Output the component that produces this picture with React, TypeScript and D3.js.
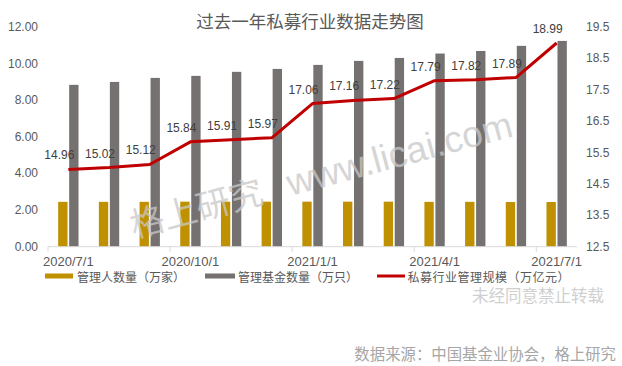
import * as d3 from 'd3';

// 过去一年私募行业数据走势图
const months = [
  '2020/7/1', '2020/8/1', '2020/9/1', '2020/10/1', '2020/11/1', '2020/12/1', '2021/1/1',
  '2021/2/1', '2021/3/1', '2021/4/1', '2021/5/1', '2021/6/1', '2021/7/1',
];
const tickMonths = ['2020/7/1', '2020/10/1', '2021/1/1', '2021/4/1', '2021/7/1'];
const managers = [2.45, 2.45, 2.45, 2.46, 2.46, 2.46, 2.46, 2.46, 2.46, 2.45, 2.45, 2.44, 2.44];
const funds = [8.84, 9.0, 9.22, 9.33, 9.55, 9.71, 9.93, 10.15, 10.31, 10.55, 10.69, 10.97, 11.24];
const scale = [14.96, 15.02, 15.12, 15.84, 15.91, 15.97, 17.06, 17.16, 17.22, 17.79, 17.82, 17.89, 18.99];
const leftTicks = [0, 2, 4, 6, 8, 10, 12];
const rightTicks = [12.5, 13.5, 14.5, 15.5, 16.5, 17.5, 18.5, 19.5];
const legendItems = ['管理人数量（万家）', '管理基金数量（万只）', '私募行业管理规模（万亿元）'];

const W = 622;
const H = 366;
const GOLD = '#BF9000';
const GRAY = '#767171';
const RED = '#C00000';
const NUM_FONT = '"Liberation Sans", Arial, sans-serif';
const CJK_FONT = '"Noto Sans CJK SC", "Noto Sans", sans-serif';

export default function App() {
  const plot = { left: 48, right: 577, top: 27, bottom: 246.7 };

  const x = d3.scaleBand<string>().domain(months).range([plot.left, plot.right]).padding(0);
  const inner = d3
    .scaleBand<string>()
    .domain(['m', 'f'])
    .range([0, x.bandwidth() / 2])
    .paddingInner(0.15);
  const barOffset = x.bandwidth() / 4;
  const yL = d3.scaleLinear().domain([0, 12]).range([plot.bottom, plot.top]);
  const yR = d3.scaleLinear().domain([12.5, 19.5]).range([plot.bottom, plot.top]);

  const cx = (m: string) => (x(m) ?? 0) + x.bandwidth() / 2;
  const line = d3
    .line<number>()
    .x((_d, i) => cx(months[i]))
    .y((d) => yR(d));

  return (
    <svg
      width={W}
      height={H}
      viewBox={`0 0 ${W} ${H}`}
      style={{ position: 'absolute', left: 0, top: 0, background: '#fff' }}
    >
      <rect width={W} height={H} fill="#fff" />

      <text
        x={310}
        y={20}
        textAnchor="middle"
        dominantBaseline="central"
        fontFamily={CJK_FONT}
        fontSize={17.5}
        fill="#595959"
      >
        过去一年私募行业数据走势图
      </text>

      {/* left axis labels */}
      {leftTicks.map((t) => (
        <text
          key={`l${t}`}
          x={38}
          y={yL(t)}
          textAnchor="end"
          dominantBaseline="central"
          fontFamily={NUM_FONT}
          fontSize={12}
          fill="#595959"
        >
          {t.toFixed(2)}
        </text>
      ))}

      {/* right axis labels */}
      {rightTicks.map((t) => (
        <text
          key={`r${t}`}
          x={586}
          y={yR(t)}
          textAnchor="start"
          dominantBaseline="central"
          fontFamily={NUM_FONT}
          fontSize={12}
          fill="#595959"
        >
          {t.toFixed(1)}
        </text>
      ))}

      {/* bars */}
      {months.map((m, i) => (
        <g key={m} transform={`translate(${(x(m) ?? 0) + barOffset},0)`}>
          <rect
            x={inner('m')}
            y={yL(managers[i])}
            width={inner.bandwidth()}
            height={plot.bottom - yL(managers[i])}
            fill={GOLD}
          />
          <rect
            x={inner('f')}
            y={yL(funds[i])}
            width={inner.bandwidth()}
            height={plot.bottom - yL(funds[i])}
            fill={GRAY}
          />
        </g>
      ))}

      {/* x axis */}
      <line x1={plot.left} x2={plot.right} y1={plot.bottom} y2={plot.bottom} stroke="#D9D9D9" strokeWidth={1} />
      {tickMonths.map((m) => (
        <g key={m}>
          <line
            x1={x(m)}
            x2={x(m)}
            y1={plot.bottom}
            y2={plot.bottom + 5}
            stroke="#D9D9D9"
            strokeWidth={1}
          />
          <text
            x={cx(m)}
            y={261}
            textAnchor="middle"
            dominantBaseline="central"
            fontFamily={NUM_FONT}
            fontSize={13}
            fill="#595959"
          >
            {m}
          </text>
        </g>
      ))}

      {/* line */}
      <path d={line(scale) ?? ''} fill="none" stroke={RED} strokeWidth={3} strokeLinejoin="round" />
      {scale.map((v, i) => (
        <text
          key={`v${i}`}
          x={cx(months[i]) - 9}
          y={yR(v) - 14}
          textAnchor="middle"
          dominantBaseline="central"
          fontFamily={NUM_FONT}
          fontSize={12}
          fill="#404040"
        >
          {v.toFixed(2)}
        </text>
      ))}

      {/* watermark */}
      <text
        transform="translate(134,238) rotate(-15)"
        fontFamily={CJK_FONT}
        fontSize={34}
        fill="#C8C8C8"
        fillOpacity={0.75}
      >
        格上研究
        <tspan fontFamily={NUM_FONT} fontSize={37} dx={26}>
          www.licai.com
        </tspan>
      </text>

      {/* legend */}
      <g fontFamily={CJK_FONT} fontSize={12} fill="#595959">
        <rect x={45} y={273.5} width={28} height={5} fill={GOLD} />
        <text x={77} y={276} dominantBaseline="central">
          {legendItems[0]}
        </text>
        <rect x={205} y={273.5} width={30} height={5} fill={GRAY} />
        <text x={238} y={276} dominantBaseline="central">
          {legendItems[1]}
        </text>
        <line x1={377} x2={405} y1={276} y2={276} stroke={RED} strokeWidth={3} />
        <text x={407.5} y={276} dominantBaseline="central" letterSpacing={0.5}>
          {legendItems[2]}
        </text>
      </g>

      <text
        x={604}
        y={294.5}
        textAnchor="end"
        dominantBaseline="central"
        fontFamily={CJK_FONT}
        fontSize={16.5}
        fill="#D0D0D0"
      >
        未经同意禁止转载
      </text>
      <text
        x={616}
        y={353}
        textAnchor="end"
        dominantBaseline="central"
        fontFamily={CJK_FONT}
        fontSize={15.4}
        fill="#A6A6A6"
      >
        数据来源：中国基金业协会，格上研究
      </text>
    </svg>
  );
}
